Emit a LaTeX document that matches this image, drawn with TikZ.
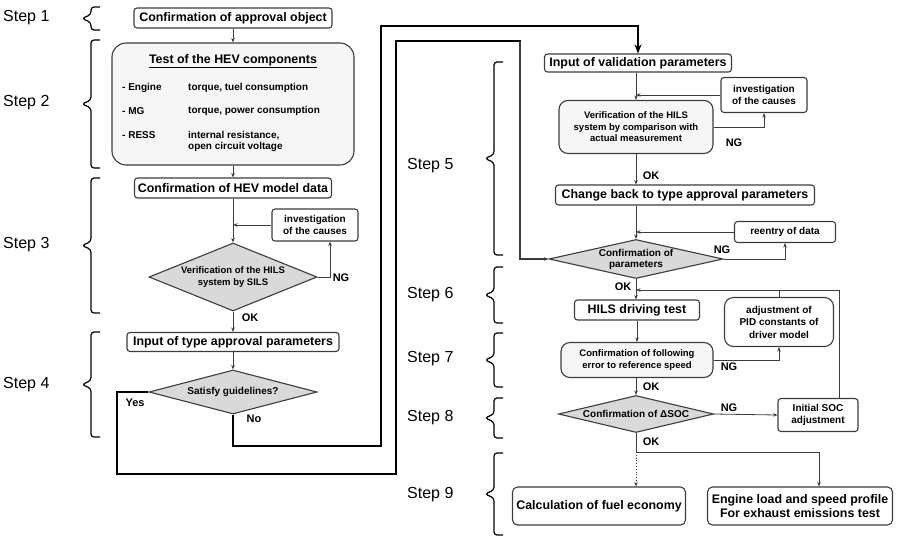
\documentclass[tikz,border=0pt]{standalone}
\usepackage{fontspec}
\setmainfont{Liberation Sans}
\usetikzlibrary{shapes.geometric,arrows.meta}

\definecolor{edgegray}{HTML}{3C3C3C}
\definecolor{boxfill}{HTML}{F6F6F6}
\definecolor{diafill}{HTML}{D9D9D9}

\tikzset{
  >={Stealth[length=4.5pt,width=3.5pt]},
  box/.style={draw=edgegray, line width=1.1pt, rounded corners=3pt, fill=white, inner sep=0pt, align=center, font=\bfseries\fontsize{12.4}{14.5}\selectfont},
  smallbox/.style={box, font=\bfseries\fontsize{10}{12}\selectfont},
  softbox/.style={box, rounded corners=9pt, fill=boxfill, font=\bfseries\fontsize{9.5}{11.5}\selectfont},
  dia/.style={diamond, draw=edgegray, line width=1.1pt, fill=diafill, inner sep=0pt},
  diatext/.style={align=center, inner sep=0pt, font=\bfseries\fontsize{9.5}{11.5}\selectfont},
  item/.style={anchor=west, inner sep=0pt, align=left, font=\bfseries\fontsize{10}{11}\selectfont},
  steplabel/.style={anchor=west, inner sep=0pt, font=\fontsize{16}{18}\selectfont},
  tag/.style={inner sep=0pt, font=\bfseries\fontsize{11}{13}\selectfont},
  flow/.style={draw=edgegray, line width=0.8pt},
  bigloop/.style={draw=black, line width=2pt},
  bracket/.style={draw=black, line width=1.2pt, rounded corners=3pt},
}

% brace of a step: x of the serif ends, top, bottom
\newcommand{\stepbrace}[3]{%
  \pgfmathsetmacro{\bracemid}{(#2+#3)/2}
  \draw[bracket] (#1,#2) -- (#1-9,#2) -- (#1-9,\bracemid-4) -- (#1-18,\bracemid) -- (#1-9,\bracemid+4) -- (#1-9,#3) -- (#1,#3);
}

\begin{document}
\begin{tikzpicture}[x=1pt,y=-1pt]
    \useasboundingbox (0,0) rectangle (907,544);

    % Step labels
    \node[steplabel] (st1) at (3,18) {Step 1};
    \node[steplabel] (st2) at (3,103) {Step 2};
    \node[steplabel] (st3) at (3,245) {Step 3};
    \node[steplabel] (st4) at (3,385) {Step 4};
    \node[steplabel] (st5) at (407,166) {Step 5};
    \node[steplabel] (st6) at (407,295) {Step 6};
    \node[steplabel] (st7) at (407,359) {Step 7};
    \node[steplabel] (st8) at (407,418) {Step 8};
    \node[steplabel] (st9) at (407,495) {Step 9};

    % Braces
    \stepbrace{100}{7}{30}
    \stepbrace{100}{40}{168}
    \stepbrace{100}{178}{313}
    \stepbrace{100}{332}{437}
    \stepbrace{503}{62}{255}
    \stepbrace{503}{267}{323}
    \stepbrace{503}{333}{387}
    \stepbrace{503}{398}{438}
    \stepbrace{503}{453}{535}

    % Left column
    \node[box, minimum width=198, minimum height=20] (appr) at (233,18) {Confirmation of approval object};
    \node[box, rounded corners=14pt, fill=boxfill, minimum width=242, minimum height=122] (hevc) at (233,104) {};
    \node[box, draw=none, fill=none] (hevt) at (233,61) {\underline{Test of the HEV components}};
    \node[item] (engA) at (122,88) {- Engine};
    \node[item] (engB) at (188,88) {torque, tuel consumption};
    \node[item] (mgA) at (122,111) {- MG};
    \node[item] (mgB) at (188,111) {torque, power consumption};
    \node[item] (ressA) at (122,135) {- RESS};
    \node[item] (ressB) at (188,141) {internal resistance,\\open circuit voltage};
    \node[box, minimum width=197, minimum height=20] (mdata) at (233,188) {Confirmation of HEV model data};
    \node[smallbox, minimum width=86, minimum height=32] (inv1) at (315,225) {investigation\\of the causes};
    \node[dia, minimum width=168, minimum height=68] (vsils) at (233,277) {};
    \node[diatext] (vsilsT) at (vsils) {Verification of the HILS\\system by SILS};
    \node[box, minimum width=212, minimum height=19] (tpar) at (233,342) {Input of type approval parameters};
    \node[dia, minimum width=168, minimum height=44] (sat) at (233,392) {};
    \node[diatext, font=\bfseries\fontsize{10}{12}\selectfont] (satT) at (sat) {Satisfy guidelines?};

    % Right column
    \node[box, minimum width=187, minimum height=18] (inval) at (638,63) {Input of validation parameters};
    \node[smallbox, minimum width=86, minimum height=35] (inv2) at (764,95) {investigation\\of the causes};
    \node[softbox, minimum width=154, minimum height=53] (ver) at (636,127) {Verification of the HILS\\system by comparison with\\actual measurement};
    \node[box, minimum width=259, minimum height=20] (cback) at (685,195) {Change back to type approval parameters};
    \node[smallbox, minimum width=101, minimum height=21] (reent) at (785,232) {reentry of data};
    \node[dia, minimum width=174, minimum height=39] (cpar) at (636,259) {};
    \node[diatext, font=\bfseries\fontsize{10}{11}\selectfont] (cparT) at (cpar) {Confirmation of\\parameters};
    \node[box, minimum width=125, minimum height=20] (hils) at (637,310) {HILS driving test};
    \node[softbox, fill=white, font=\bfseries\fontsize{10}{12.5}\selectfont, minimum width=109, minimum height=49] (adj) at (779,322) {adjustment of\\PID constants of\\driver model};
    \node[softbox, minimum width=152, minimum height=35] (cfol) at (637,360) {Confirmation of following\\error to reference speed};
    \node[dia, minimum width=155, minimum height=37] (socd) at (636,414) {};
    \node[diatext, font=\bfseries\fontsize{10}{12}\selectfont] (socdT) at (socd) {Confirmation of ΔSOC};
    \node[smallbox, minimum width=80, minimum height=33] (soc) at (818,415) {Initial SOC\\adjustment};
    \node[box, rounded corners=5pt, minimum width=173, minimum height=38] (fuel) at (599,506) {Calculation of fuel economy};
    \node[box, rounded corners=5pt, minimum width=185, minimum height=38] (eng) at (800,506) {Engine load and speed profile\\For exhaust emissions test};

    % Left connectors
    \draw[flow,->] (appr.south) -- (hevc.north);
    \draw[flow,->] (hevc.south) -- (mdata.north);
    \draw[flow,->] (mdata.south) -- (vsils.north);
    \draw[flow,->] (inv1.west) -- (inv1.west -| mdata.south);
    \coordinate (ngA) at (330,277);
    \draw[flow,->] (vsils.east) -- (ngA) -- (ngA |- inv1.south);
    \draw[flow,->] (vsils.south) -- (tpar.north);
    \draw[flow,->] (tpar.south) -- (sat.north);

    % Loops from the guideline check
    \coordinate (noA) at (381,446);
    \coordinate (noB) at (381,26);
    \draw[bigloop,-{Stealth[length=9pt,width=7pt]}] (sat.south) |- (noA) -- (noB) -| (inval.north);
    \coordinate (yesA) at (117,474);
    \coordinate (yesB) at (396,474);
    \coordinate (yesC) at (396,41);
    \coordinate (yesD) at (520,41);
    \draw[bigloop] (sat.west) -| (yesA) -- (yesB) -- (yesC) -- (yesD) -- ++(0,12);
    \draw[flow,line width=1.1pt,->] (yesD) |- (cpar.west);

    % Right connectors
    \draw[flow,->] (inval.south -| ver.north) -- (ver.north);
    \draw[flow,->] (inv2.west) -- (inv2.west -| ver.north);
    \draw[flow,->] (ver.east) -| (inv2.south);
    \draw[flow,->] (ver.south) -- (ver.south |- cback.north);
    \draw[flow,->] (cback.south -| cpar.north) -- (cpar.north);
    \draw[flow,->] (reent.west) -- (reent.west -| cpar.north);
    \draw[flow,->] (cpar.east) -| (reent.south);
    \draw[flow,->] (cpar.south) -- (cpar.south |- hils.north);
    \draw[flow,->] (cfol.north |- hils.south) -- (cfol.north);
    \draw[flow,->] (cfol.east) -| (adj.south);
    \draw[flow,->] (cfol.south -| socd.north) -- (socd.north);
    \draw[flow,->] (socd.east) -- (soc.west);
    \coordinate (fbA) at (839,290);
    \draw[flow,->] (soc.north -| fbA) -- (fbA) -- (fbA -| cpar.south);
    \draw[flow] (adj.north) -- (adj.north |- fbA);
    \coordinate (split) at (636,452);
    \draw[flow] (socd.south) -- (split);
    \draw[flow,dotted,->] (split) -- (split |- fuel.north);
    \draw[flow,->] (split) -| ([xshift=19]eng.north);

    % Branch labels
    \node[tag] (ng1) at (341,278) {NG};
    \node[tag] (ok1) at (250,318) {OK};
    \node[tag] (yes) at (135,403) {Yes};
    \node[tag] (no) at (254,419) {No};
    \node[tag] (ng2) at (734,143) {NG};
    \node[tag] (ok2) at (651,176) {OK};
    \node[tag] (ng3) at (722,250) {NG};
    \node[tag] (ok3) at (623,287) {OK};
    \node[tag] (ng4) at (729,367) {NG};
    \node[tag] (ok4) at (651,387) {OK};
    \node[tag] (ng5) at (729,408) {NG};
    \node[tag] (ok5) at (651,442) {OK};

\end{tikzpicture}
\end{document}
